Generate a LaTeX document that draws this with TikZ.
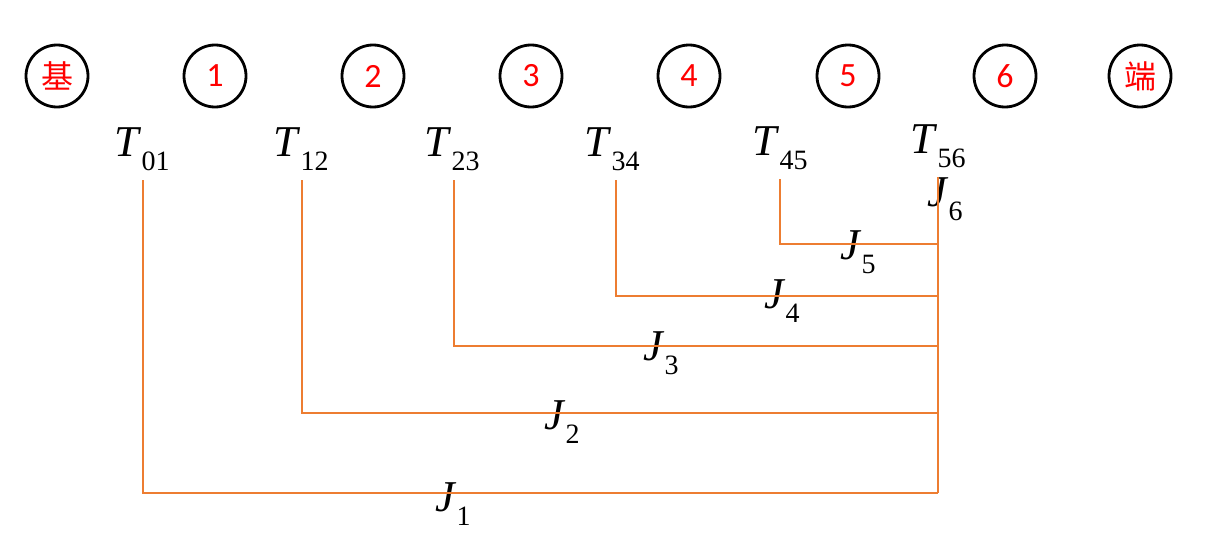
\documentclass[tikz,border=0pt]{standalone}
\usepackage{fontspec}
\setmainfont{Liberation Serif}
\newfontfamily\digfont{Carlito}
\newfontfamily\cjkfont{Noto Sans CJK SC}
\definecolor{linkorange}{HTML}{ED7D31}
\definecolor{labred}{HTML}{FF0000}
\newcommand\symlbl[2]{\fontsize{44}{44}\selectfont\textit{#1}\raisebox{-14pt}{\fontsize{28}{28}\selectfont #2}}
\begin{document}
\begin{tikzpicture}[x=1pt,y=-1pt,
  body/.style={circle,draw=black,line width=2.8pt,minimum size=62pt,inner sep=0pt,text=labred},
  numtxt/.style={font=\digfont\fontsize{34}{34}\selectfont},
  cjktxt/.style={font=\cjkfont\fontsize{32}{32}\selectfont},
  symb/.style={anchor=base,inner sep=0pt},
  link/.style={draw=linkorange,line width=2.4pt}]
\useasboundingbox (0,0) rectangle (1214,535);
% bodies
\node[body,cjktxt] (c0) at (57,76) {基};
\node[body,numtxt] (c1) at (215,76) {1};
\node[body,numtxt] (c2) at (373,76) {2};
\node[body,numtxt] (c3) at (531,76) {3};
\node[body,numtxt] (c4) at (689,76) {4};
\node[body,numtxt] (c5) at (848,76) {5};
\node[body,numtxt] (c6) at (1005,76) {6};
\node[body,cjktxt] (c7) at (1140,76) {端};
% T labels
\node[symb] (t01) at (142,156) {\symlbl{T}{01}};
\node[symb] (t12) at (301,156) {\symlbl{T}{12}};
\node[symb] (t23) at (452,156) {\symlbl{T}{23}};
\node[symb] (t34) at (612,156) {\symlbl{T}{34}};
\node[symb] (t45) at (780,155) {\symlbl{T}{45}};
\node[symb] (t56) at (938,153) {\symlbl{T}{56}};
% J labels
\node[symb] (j1) at (453,511) {\symlbl{J}{1}};
\node[symb] (j2) at (562,429) {\symlbl{J}{2}};
\node[symb] (j3) at (661,360) {\symlbl{J}{3}};
\node[symb] (j4) at (782,308) {\symlbl{J}{4}};
\node[symb] (j5) at (858,259) {\symlbl{J}{5}};
\node[symb] (j6) at (945,206) {\symlbl{J}{6}};
% connector coordinates
\coordinate (a1) at (143,180);
\coordinate (a2) at (302,180);
\coordinate (a3) at (454,180);
\coordinate (a4) at (616,180);
\coordinate (a5) at (780,179);
\coordinate (top) at (938,177);
\coordinate (k5) at (938,244);
\coordinate (k4) at (938,296);
\coordinate (k3) at (938,346);
\coordinate (k2) at (938,413);
\coordinate (k1) at (938,493);
% connectors
\draw[link] (top) -- (k1);
\draw[link] (a5) |- (k5);
\draw[link] (a4) |- (k4);
\draw[link] (a3) |- (k3);
\draw[link] (a2) |- (k2);
\draw[link] (a1) |- (k1);
\end{tikzpicture}
\end{document}
